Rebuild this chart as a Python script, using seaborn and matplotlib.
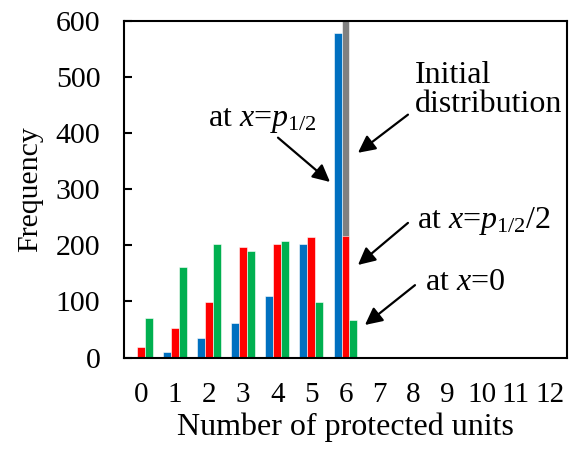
import matplotlib
matplotlib.use("Agg")
import matplotlib.pyplot as plt
import seaborn as sns
import pandas as pd

# ---- data ----
categories = [str(i) for i in range(13)]
at_p_half = [0, 9, 34, 62, 110, 202, 579, 0, 0, 0, 0, 0, 0]
at_p_half_2 = [18, 52, 99, 197, 202, 214, 217, 0, 0, 0, 0, 0, 0]
at_zero = [70, 162, 202, 190, 207, 99, 67, 0, 0, 0, 0, 0, 0]
initial = [0, 0, 0, 0, 0, 0, 1000, 0, 0, 0, 0, 0, 0]
series_names = ["p", "p2", "zero"]
series_colors = ["#0070C0", "#FF0000", "#00B050"]
y_ticks = [0, 100, 200, 300, 400, 500, 600]

sns.set_style("white")
plt.rcParams["font.family"] = ["Liberation Serif", "DejaVu Serif"]
plt.rcParams["mathtext.fontset"] = "custom"
plt.rcParams["mathtext.rm"] = "Liberation Serif"
plt.rcParams["mathtext.it"] = "Liberation Serif:italic"
plt.rcParams["text.color"] = "black"
plt.rcParams["axes.labelcolor"] = "black"
plt.rcParams["xtick.color"] = "black"
plt.rcParams["ytick.color"] = "black"

df = pd.DataFrame({
    "cat": categories * 3,
    "val": at_p_half + at_p_half_2 + at_zero,
    "series": [series_names[0]] * 13 + [series_names[1]] * 13 + [series_names[2]] * 13,
})

fig = plt.figure(figsize=(5.71, 4.49), dpi=100)
ax = fig.add_axes([124 / 571, 1 - 357.5 / 449, (567 - 124) / 571, (357.5 - 21) / 449])

# initial distribution (behind middle bar)
sns.barplot(x=categories, y=initial, order=categories, color="#808080",
            width=0.7 / 3, ax=ax, edgecolor="white", linewidth=0.4, saturation=1, zorder=1)
sns.barplot(data=df, x="cat", y="val", hue="series", order=categories,
            hue_order=series_names, palette=series_colors, width=0.7, ax=ax,
            edgecolor="white", linewidth=0.4, saturation=1, legend=False, zorder=2)

ax.set_ylim(0, 600)
ax.set_xlim(-0.5, 12.5)
ax.set_yticks(y_ticks)
ax.set_yticklabels([str(t) for t in y_ticks], fontsize=21.5)
ax.set_xticks(range(13))
ax.set_xticklabels(categories, fontsize=21)
ax.set_xticks([i - 0.5 for i in range(1, 13)], minor=True)
ax.tick_params(axis="x", which="major", length=0, pad=18)
ax.tick_params(axis="x", which="minor", direction="in", length=6, width=1.5, color="black")
ax.tick_params(axis="y", which="major", direction="in", length=6, width=1.5, color="black", pad=17, left=True)
for s in ax.spines.values():
    s.set_visible(True)
    s.set_color("black")
    s.set_linewidth(1.5)

ax.set_xlabel("Number of protected units", fontsize=23, labelpad=3)
ax.set_ylabel("Frequency", fontsize=21.5, labelpad=9)

arrow = dict(arrowstyle="-|>", color="black", lw=1.6, mutation_scale=26, shrinkA=0, shrinkB=0)
tk = dict(fontsize=23, ha="left", va="baseline", clip_on=False, color="black")

ax.annotate("", xy=(5.545, 313), xytext=(4.019, 392), arrowprops=arrow)
ax.text(1.965, 412, r"at $x$=$p_{\mathrm{1/2}}$", **tk)

ax.annotate("", xy=(6.366, 365), xytext=(7.833, 433), arrowprops=arrow)
ax.text(8.039, 490, "Initial", **tk)
ax.text(8.039, 437, "distribution", **tk)

ax.annotate("", xy=(6.366, 165), xytext=(7.833, 240), arrowprops=arrow)
ax.text(8.097, 231, r"at $x$=$p_{\mathrm{1/2}}$/2", **tk)

ax.annotate("", xy=(6.571, 58), xytext=(8.039, 129), arrowprops=arrow)
ax.text(8.332, 120.5, r"at $x$=0", **tk)

fig.savefig("out.png", dpi=100)
